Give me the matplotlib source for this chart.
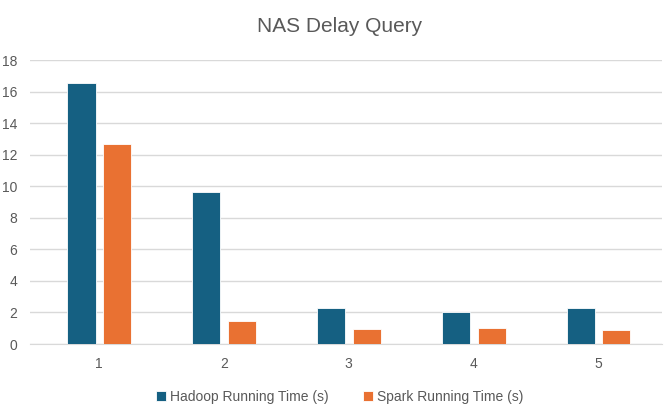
import numpy as np
import matplotlib.pyplot as plt

plt.rcParams['font.family'] = ['Liberation Sans', 'DejaVu Sans']

queries = ['1', '2', '3', '4', '5']
hadoop = [16.55, 9.62, 2.27, 2.03, 2.27]
spark = [12.67, 1.46, 0.94, 1.02, 0.88]
yticks = [0, 2, 4, 6, 8, 10, 12, 14, 16, 18]

grey = '#595959'
fig = plt.figure(figsize=(6.71, 4.15), dpi=100)
ax = fig.add_axes([30 / 671, 71 / 415, 632 / 671, 284 / 415])

x = np.arange(1, len(queries) + 1)
w = 0.225
ax.bar(x - 0.14, hadoop, w, color='#156082', edgecolor='white', linewidth=0.6,
       label='Hadoop Running Time (s)', zorder=3)
ax.bar(x + 0.147, spark, w, color='#E97132', edgecolor='white', linewidth=0.6,
       label='Spark Running Time (s)', zorder=3)

ax.set_xlim(0.447, 5.513)
ax.set_ylim(0, 18)
ax.set_yticks(yticks)
ax.set_xticks(x)
ax.set_xticklabels(queries)
ax.yaxis.grid(True, color='#d9d9d9', linewidth=1, zorder=0)
for s in ['top', 'right', 'left']:
    ax.spines[s].set_visible(False)
ax.spines['bottom'].set_color('#d9d9d9')
ax.tick_params(axis='both', length=0, colors=grey, labelsize=10)
ax.tick_params(axis='x', pad=9)
ax.tick_params(axis='y', pad=9)

fig.suptitle('NAS Delay Query', x=340 / 671, y=1 - 17 / 415, va='top',
             fontsize=15, color=grey)
fig.legend(loc='center', bbox_to_anchor=(340 / 671, 1 - 397 / 415), ncol=2,
           frameon=False, fontsize=10, labelcolor=grey, handlelength=0.7,
           handleheight=0.7, handletextpad=0.3, columnspacing=2.5)

fig.savefig('out.png', dpi=100)
